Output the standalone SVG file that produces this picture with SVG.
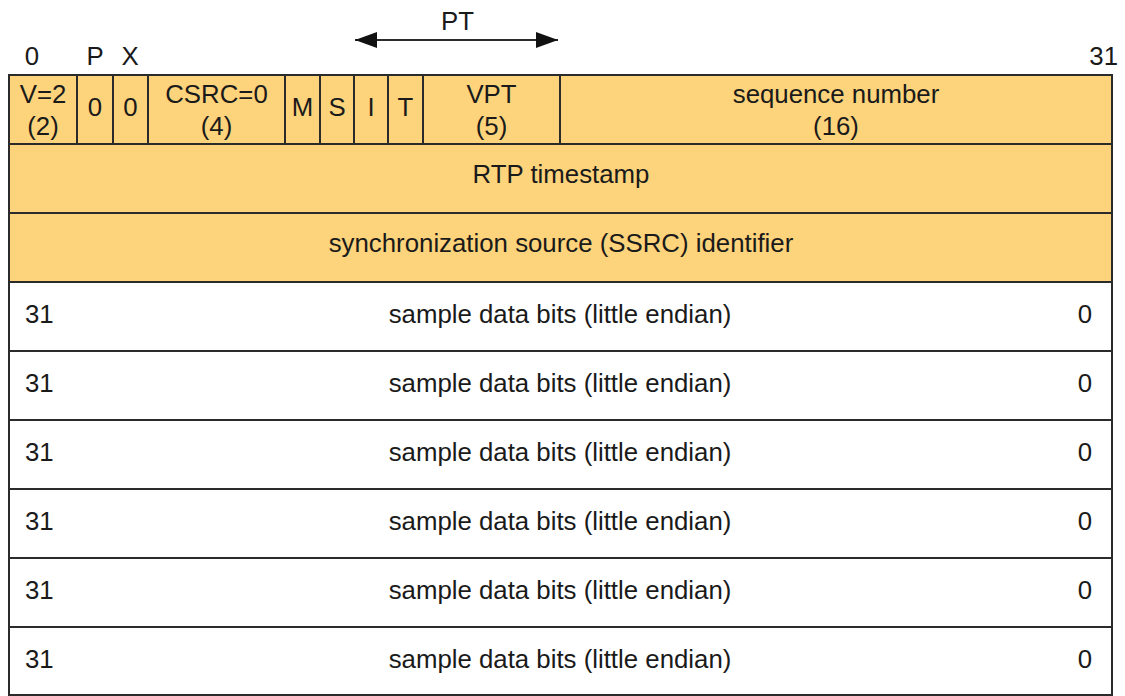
<svg xmlns="http://www.w3.org/2000/svg" width="1125" height="696" viewBox="0 0 1125 696">
<style>
text{font-family:"Liberation Sans",Arial,Helvetica,sans-serif;font-size:25.8px;fill:#1a1a1a}
.c{text-anchor:middle}
.r{text-anchor:end}
.hdr{fill:#fdd37b;stroke:#2b2b2b;stroke-width:2}
.dat{fill:#ffffff;stroke:#2b2b2b;stroke-width:2}
.ln{stroke:#2b2b2b;stroke-width:2;fill:none}
</style>
<defs>
<marker id="ah" viewBox="0 0 10 10" refX="10" refY="5" markerWidth="22" markerHeight="16" markerUnits="userSpaceOnUse" orient="auto-start-reverse" preserveAspectRatio="none">
<path d="M0,0 L10,5 L0,10 z" fill="#111"/>
</marker>
</defs>
<rect width="1125" height="696" fill="#ffffff"/>

<g id="labels">
<text class="c" x="32" y="65">0</text>
<text class="c" x="95" y="65">P</text>
<text class="c" x="130" y="65">X</text>
<text class="r" x="1118" y="65">31</text>
<text class="c" x="457.5" y="30">PT</text>
</g>

<g id="connectors">
<line class="ln" x1="355" y1="40" x2="558" y2="40" marker-start="url(#ah)" marker-end="url(#ah)"/>
</g>

<g id="header-row">
<rect class="hdr" x="9" y="75" width="1103" height="69"/>
<line class="ln" x1="77" y1="75" x2="77" y2="144"/>
<line class="ln" x1="113" y1="75" x2="113" y2="144"/>
<line class="ln" x1="148" y1="75" x2="148" y2="144"/>
<line class="ln" x1="285" y1="75" x2="285" y2="144"/>
<line class="ln" x1="320" y1="75" x2="320" y2="144"/>
<line class="ln" x1="354" y1="75" x2="354" y2="144"/>
<line class="ln" x1="388" y1="75" x2="388" y2="144"/>
<line class="ln" x1="423" y1="75" x2="423" y2="144"/>
<line class="ln" x1="560" y1="75" x2="560" y2="144"/>
<text class="c" x="43" y="103">V=2</text>
<text class="c" x="43" y="135">(2)</text>
<text class="c" x="95" y="116">0</text>
<text class="c" x="130.5" y="116">0</text>
<text class="c" x="216.5" y="103">CSRC=0</text>
<text class="c" x="216.5" y="135">(4)</text>
<text class="c" x="302.5" y="116">M</text>
<text class="c" x="337" y="116">S</text>
<text class="c" x="371" y="116">I</text>
<text class="c" x="405.5" y="116">T</text>
<text class="c" x="491.5" y="103">VPT</text>
<text class="c" x="491.5" y="135">(5)</text>
<text class="c" x="836" y="103">sequence number</text>
<text class="c" x="836" y="135">(16)</text>
</g>

<g id="rtp-timestamp">
<rect class="hdr" x="9" y="144" width="1103" height="69"/>
<text class="c" x="561" y="183">RTP timestamp</text>
</g>

<g id="ssrc">
<rect class="hdr" x="9" y="213" width="1103" height="69"/>
<text class="c" x="561" y="252">synchronization source (SSRC) identifier</text>
</g>

<g id="data-1">
<rect class="dat" x="9" y="282" width="1103" height="69"/>
<text x="25" y="323">31</text>
<text class="c" x="560" y="323">sample data bits (little endian)</text>
<text class="r" x="1092" y="323">0</text>
</g>
<g id="data-2">
<rect class="dat" x="9" y="351" width="1103" height="69"/>
<text x="25" y="392">31</text>
<text class="c" x="560" y="392">sample data bits (little endian)</text>
<text class="r" x="1092" y="392">0</text>
</g>
<g id="data-3">
<rect class="dat" x="9" y="420" width="1103" height="69"/>
<text x="25" y="461">31</text>
<text class="c" x="560" y="461">sample data bits (little endian)</text>
<text class="r" x="1092" y="461">0</text>
</g>
<g id="data-4">
<rect class="dat" x="9" y="489" width="1103" height="69"/>
<text x="25" y="530">31</text>
<text class="c" x="560" y="530">sample data bits (little endian)</text>
<text class="r" x="1092" y="530">0</text>
</g>
<g id="data-5">
<rect class="dat" x="9" y="558" width="1103" height="69"/>
<text x="25" y="599">31</text>
<text class="c" x="560" y="599">sample data bits (little endian)</text>
<text class="r" x="1092" y="599">0</text>
</g>
<g id="data-6">
<rect class="dat" x="9" y="627" width="1103" height="68"/>
<text x="25" y="668">31</text>
<text class="c" x="560" y="668">sample data bits (little endian)</text>
<text class="r" x="1092" y="668">0</text>
</g>
</svg>
